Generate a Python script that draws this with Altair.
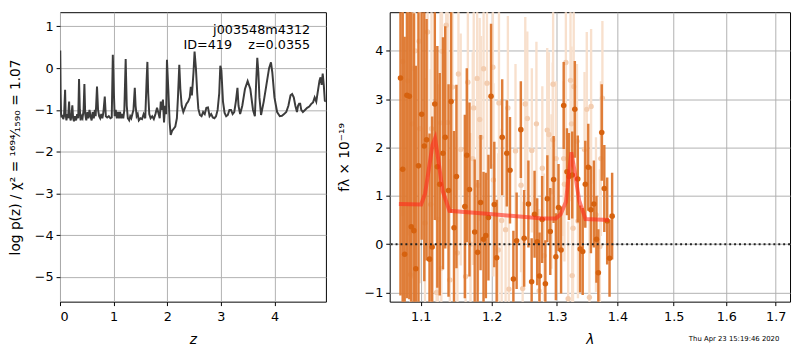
import altair as alt
import pandas as pd

# ---------------- left panel: log p(z) ----------------
pz_z = [0.000, 0.005, 0.012, 0.020, 0.030, 0.045, 0.060, 0.075, 0.095, 0.105, 0.120, 0.135, 0.150, 0.170,
        0.180, 0.200, 0.215, 0.230, 0.245, 0.260, 0.280, 0.300, 0.320, 0.340, 0.355, 0.370, 0.385, 0.400,
        0.420, 0.440, 0.455, 0.470, 0.490, 0.510, 0.530, 0.550, 0.570, 0.590, 0.610, 0.630, 0.650, 0.665,
        0.690, 0.710, 0.730, 0.750, 0.770, 0.790, 0.810, 0.835, 0.855, 0.880, 0.910, 0.940, 0.965, 0.985,
        1.005, 1.020, 1.040, 1.060, 1.080, 1.100, 1.120, 1.140, 1.160, 1.180, 1.200, 1.225, 1.245, 1.265,
        1.290, 1.310, 1.330, 1.350, 1.370, 1.395, 1.410, 1.430, 1.450, 1.470, 1.500, 1.530, 1.560, 1.590,
        1.615, 1.630, 1.645, 1.665, 1.690, 1.720, 1.750, 1.780, 1.810, 1.840, 1.860, 1.880, 1.900, 1.920,
        1.940, 1.960, 1.980, 1.995, 2.020, 2.045, 2.065, 2.090, 2.120, 2.150, 2.180, 2.200, 2.225, 2.245,
        2.270, 2.300, 2.330, 2.360, 2.390, 2.420, 2.440, 2.460, 2.490, 2.510, 2.535, 2.560, 2.580, 2.610,
        2.640, 2.670, 2.700, 2.730, 2.760, 2.790, 2.820, 2.850, 2.880, 2.910, 2.940, 2.970, 2.990, 3.010,
        3.040, 3.070, 3.100, 3.130, 3.160, 3.190, 3.220, 3.250, 3.280, 3.310, 3.330, 3.360, 3.400, 3.450,
        3.500, 3.550, 3.600, 3.635, 3.660, 3.680, 3.700, 3.720, 3.750, 3.800, 3.850, 3.900, 3.935, 3.960,
        4.000, 4.050, 4.100, 4.140, 4.180, 4.220, 4.260, 4.300, 4.330, 4.360, 4.390, 4.420, 4.440, 4.460,
        4.480, 4.500, 4.530, 4.570, 4.610, 4.650, 4.690, 4.720, 4.750, 4.780, 4.810, 4.840, 4.860, 4.880,
        4.900, 4.920, 4.940, 4.960]
pz_logp = [-1.00, 0.42, -0.60, -1.10, -1.18, -1.12, -1.22, -1.15, -0.52, -1.10, -1.25, -1.10, -1.20, -0.80,
           -1.15, -1.25, -1.10, -0.89, -1.20, -1.27, -1.15, -1.25, -1.10, -1.20, -0.26, -1.00, -1.25, -1.15,
           -1.20, -1.00, -0.38, -1.10, -1.25, -1.05, -1.20, -1.00, -1.15, -1.25, -1.05, -1.20, -1.00, -1.15,
           -0.44, -1.00, -1.15, -1.20, -1.10, -1.20, -1.05, -0.68, -1.15, -1.18, -1.15, -1.20, -1.18, 0.32,
           -0.60, -1.15, -1.00, -1.20, -1.05, -1.20, -1.05, -1.20, -1.10, -1.20, -1.00, 0.22, -0.90, -1.20,
           -1.25, -1.15, -1.20, -1.10, -1.00, -0.47, -0.90, -1.15, -1.10, -1.25, -1.20, -1.22, -1.10, -1.20,
           -0.30, 0.15, -0.60, -1.10, -1.20, -1.15, -1.22, -1.10, -0.95, -1.10, -1.20, -0.80, -1.00, -0.75,
           -1.30, -0.90, -1.10, 0.20, -0.50, -1.30, -1.60, -1.50, -1.45, -1.40, -1.20, -0.70, 0.08, -0.50,
           -0.90, -1.05, -0.95, -0.85, -0.80, -0.70, -0.45, -0.65, -0.10, 0.40, 0.00, -0.60, -0.97, -1.12,
           -1.15, -1.05, -1.10, -0.95, -0.94, -1.15, -1.10, -1.18, -1.20, -1.15, -1.00, -0.60, 0.06, -0.05,
           -0.80, -1.07, -1.15, -1.12, -1.00, -1.00, -1.10, -1.05, -0.80, -0.47, -0.90, -1.10, -0.90, -0.50,
           -0.31, -0.50, -1.00, -1.15, -0.30, 0.25, -0.10, -0.70, -1.12, -0.80, -0.40, 0.00, 0.14, -0.10,
           -0.70, -1.05, -1.15, -1.14, -1.10, -1.05, -0.90, -0.65, -0.62, -0.70, -0.90, -1.05, -0.90, -0.85,
           -0.85, -1.00, -1.05, -1.00, -0.95, -0.92, -0.85, -0.82, -0.70, -0.80, -0.55, -0.30, -0.22, -0.40,
           -0.13, -0.40, -0.78, -0.80]

# ---------------- right panel: spectrum ----------------
dark_wave = [1.0731, 1.0760, 1.0786, 1.0816, 1.0848, 1.0874, 1.0908, 1.0934, 1.0970, 1.1013, 1.1049, 1.1080,
             1.1120, 1.1156, 1.1192, 1.1227, 1.1260, 1.1305, 1.1336, 1.1382, 1.1418, 1.1459, 1.1493, 1.1612,
             1.1640, 1.1678, 1.1753, 1.1795, 1.1838, 1.1881, 1.1915, 1.1953, 1.1991, 1.2039, 1.2074, 1.2156,
             1.2225, 1.2273, 1.2324, 1.2373, 1.2437, 1.2488, 1.2553, 1.2603, 1.2648, 1.2689, 1.2725, 1.2766,
             1.2817, 1.2848, 1.2894, 1.2947, 1.2983, 1.3025, 1.3066, 1.3108, 1.3161, 1.3192, 1.3246, 1.3288,
             1.3336, 1.3375, 1.3417, 1.3460, 1.3509, 1.3553, 1.3602, 1.3645, 1.3677, 1.3734, 1.3777, 1.3826,
             1.3866, 1.3910]
dark_flux = [3.44, 1.55, -0.21, 3.08, 3.06, 0.36, 0.28, -0.51, 1.62, 2.69, 2.03, 2.16,
             -0.31, -0.06, 2.90, 1.60, 1.24, 1.88, 2.21, 1.11, 2.95, 0.34, 1.40, 0.78,
             1.84, 1.13, 0.25, -0.17, 0.86, 0.10, 0.18, 0.55, 3.06, 0.82, -0.28, 2.21,
             1.88, 1.53, -0.72, 0.07, 2.37, 0.12, 0.83, -0.78, 0.62, 0.05, -0.66, 0.51,
             -0.82, 0.94, 0.26, 1.34, -0.26, 0.76, -0.12, 2.87, 1.50, 1.40, 1.43, 2.79,
             1.35, -0.10, -0.15, 1.24, 1.59, 0.71, 0.83, 0.10, -0.59, 2.31, 1.15, 0.48,
             -0.29, 0.58]
dark_err = [4.5, 4.5, 4.5, 4.2, 4.2, 4.5, 4.5, 4.2, 4.0, 2.6, 2.8, 2.5,
            2.6, 2.7, 2.4, 2.5, 2.3, 2.4, 2.3, 2.2, 2.3, 2.0, 1.9, 1.9,
            1.8, 1.8, 1.5, 1.5, 1.4, 1.4, 1.3, 1.3, 1.5, 1.3, 1.2, 1.2,
            1.1, 1.1, 1.0, 1.0, 1.0, 1.0, 0.9, 0.9, 0.9, 0.9, 0.9, 0.9,
            0.9, 0.9, 0.9, 0.9, 0.9, 0.9, 0.9, 0.9, 0.9, 0.9, 0.9, 1.0,
            0.9, 0.9, 0.9, 0.9, 0.9, 0.9, 0.9, 0.9, 0.9, 1.0, 0.9, 0.9,
            0.8, 0.9]

light_wave = [1.0760, 1.0829, 1.0864, 1.0884, 1.0912, 1.0926, 1.0979, 1.0989, 1.1058, 1.1093, 1.1136, 1.1147,
              1.1217, 1.1237, 1.1271, 1.1282, 1.1291, 1.1350, 1.1370, 1.1400, 1.1437, 1.1507, 1.1521, 1.1553,
              1.1623, 1.1655, 1.1693, 1.1725, 1.1739, 1.1788, 1.1802, 1.1825, 1.1845, 1.1882, 1.1931, 1.2018,
              1.2026, 1.2098, 1.2108, 1.2148, 1.2207, 1.2241, 1.2256, 1.2356, 1.2440, 1.2465, 1.2505, 1.2536,
              1.2606, 1.2677, 1.2719, 1.2769, 1.2795, 1.2846, 1.2872, 1.2913, 1.2934, 1.2939, 1.2986, 1.3108,
              1.3120, 1.3143, 1.3180, 1.3218, 1.3234, 1.3245, 1.3259, 1.3270, 1.3323, 1.3339, 1.3447, 1.3484,
              1.3528, 1.3556, 1.3637, 1.3703, 1.3719, 1.3745]
light_flux = [3.78, 3.38, -0.63, 2.49, 3.64, 4.00, 4.20, 2.39, 0.44, 4.39, 0.82, 2.39,
              -1.00, 0.51, 2.51, -0.50, 3.99, 4.53, 2.52, -0.74, 3.25, -0.18, 3.52, 1.96,
              -0.67, 3.35, 0.00, 1.77, 2.82, 3.43, 1.22, 2.58, 2.21, 3.63, 3.33, 3.66,
              1.33, -0.12, 2.92, 0.49, 0.30, 2.82, -0.93, 1.93, 1.22, -0.92, 2.90, 2.60,
              1.94, 2.49, -0.97, 1.57, -0.24, 2.36, 2.27, 1.09, 2.16, 3.31, 1.77, 1.77,
              1.24, 3.76, -1.13, 3.39, 2.49, -0.65, 0.33, 3.26, 2.13, 0.48, 1.96, 2.79,
              -1.10, 2.85, 0.61, -0.05, 1.77, 3.02]
light_err = [3.2, 3.2, 3.0, 3.2, 3.0, 3.2, 3.0, 3.2, 3.0, 3.0, 2.8, 2.8,
             2.8, 2.8, 2.6, 2.6, 2.6, 2.6, 2.5, 2.5, 2.5, 2.4, 2.4, 2.4,
             2.3, 2.3, 2.3, 2.2, 2.2, 2.2, 2.2, 2.1, 2.1, 2.1, 2.0, 2.0,
             2.0, 2.0, 2.0, 1.9, 1.9, 1.9, 1.9, 1.8, 1.8, 1.8, 1.8, 1.8,
             1.7, 1.7, 1.7, 1.7, 1.7, 1.7, 1.7, 1.6, 1.6, 1.6, 1.6, 1.6,
             1.6, 1.6, 1.6, 1.6, 1.6, 1.6, 1.6, 1.6, 1.6, 1.6, 1.6, 1.6,
             1.6, 1.6, 1.6, 1.6, 1.6, 1.6]

model_wave = [1.0710, 1.1006, 1.1060, 1.1110, 1.1160, 1.1196, 1.1240, 1.1300, 1.1395, 1.1930, 1.2775,
              1.2980, 1.3060, 1.3143, 1.3200, 1.3232, 1.3280, 1.3360, 1.3463, 1.3854]
model_flux = [0.83, 0.82, 1.05, 1.55, 2.05, 2.19, 1.75, 1.10, 0.69, 0.63, 0.53,
              0.53, 0.62, 0.87, 1.55, 1.90, 1.55, 0.90, 0.52, 0.50]

title_obj = "j003548m4312"
title_id = "ID=419\u00a0\u00a0\u00a0\u00a0z=0.0355"
stamp = "Thu Apr 23 15:19:46 2020"

FONT = "DejaVu Sans"
GRID = "#b0b0b0"

# -------- left chart --------
pz = pd.DataFrame({"z": pz_z, "logp": pz_logp})
lw, lh = 271, 295

left_line = alt.Chart(pz).mark_line(color="#3c3c3c", strokeWidth=2, clip=True).encode(
    x=alt.X("z:Q", scale=alt.Scale(domain=[0, 4.96], nice=False, zero=False),
            axis=alt.Axis(values=[0, 1, 2, 3, 4], title="z", titleFontStyle="italic")),
    y=alt.Y("logp:Q", scale=alt.Scale(domain=[-5.59, 1.34], nice=False, zero=False),
            axis=alt.Axis(values=[-5, -4, -3, -2, -1, 0, 1],
                          labelExpr="replace(datum.label, '-', '\u2212')",
                          title="log p(z) / \u03c7\u00b2 = \u00b9\u2076\u2079\u2074\u2044\u2081\u2085\u2089\u2080 = 1.07",
                          titlePadding=12)),
)
t1 = alt.Chart(pd.DataFrame({"t": [title_obj]})).mark_text(
    align="right", baseline="middle", fontSize=13, font=FONT, color="black").encode(
    text="t:N", x=alt.value(255), y=alt.value(18))
t2 = alt.Chart(pd.DataFrame({"t": [title_id]})).mark_text(
    align="right", baseline="middle", fontSize=13, font=FONT, color="black").encode(
    text="t:N", x=alt.value(255), y=alt.value(33))
left = alt.layer(left_line, t1, t2).properties(width=lw, height=lh)

# -------- right chart --------
dark = pd.DataFrame({"w": dark_wave, "f": dark_flux, "e": dark_err})
dark["lo"] = dark["f"] - dark["e"]
dark["hi"] = dark["f"] + dark["e"]
light = pd.DataFrame({"w": light_wave, "f": light_flux, "e": light_err})
light["lo"] = light["f"] - light["e"]
light["hi"] = light["f"] + light["e"]
model = pd.DataFrame({"w": model_wave, "f": model_flux})

xs = alt.Scale(type="log", domain=[1.059, 1.730], nice=False, zero=False)
ys = alt.Scale(domain=[-1.19, 4.80], nice=False, zero=False)
xax = alt.Axis(values=[1.1, 1.2, 1.3, 1.4, 1.5, 1.6, 1.7], format=".1f", title="\u03bb",
               titleFontStyle="italic")
yax = alt.Axis(values=[-1, 0, 1, 2, 3, 4], labelExpr="replace(datum.label, '-', '\u2212')",
               title="f\u03bb \u00d7 10\u207b\u00b9\u2079", titlePadding=13)

lb = alt.Chart(light).mark_rule(color="#f8e0cd", strokeWidth=2.4, clip=True).encode(
    x=alt.X("w:Q", scale=xs, axis=xax), y=alt.Y("lo:Q", scale=ys, axis=yax), y2="hi:Q")
lp = alt.Chart(light).mark_circle(color="#f3cdb0", size=30, opacity=1, clip=True).encode(
    x=alt.X("w:Q", scale=xs), y=alt.Y("f:Q", scale=ys))
db = alt.Chart(dark).mark_rule(color="#dd762d", strokeWidth=2.5, opacity=0.95, clip=True).encode(
    x=alt.X("w:Q", scale=xs), y=alt.Y("lo:Q", scale=ys), y2="hi:Q")
dp = alt.Chart(dark).mark_circle(color="#d6620f", size=32, opacity=1, clip=True).encode(
    x=alt.X("w:Q", scale=xs), y=alt.Y("f:Q", scale=ys))
ml = alt.Chart(model).mark_line(color="#ff2a1a", strokeWidth=4, opacity=0.6, clip=True).encode(
    x=alt.X("w:Q", scale=xs), y=alt.Y("f:Q", scale=ys))
zl = alt.Chart(pd.DataFrame({"v": [0]})).mark_rule(color="#222222", strokeWidth=2,
                                                     strokeDash=[2, 3]).encode(y=alt.Y("v:Q", scale=ys))
st = alt.Chart(pd.DataFrame({"t": [stamp]})).mark_text(fontSize=7, font=FONT, align="center",
                                                      baseline="middle", color="black").encode(
    text="t:N", x=alt.value(351), y=alt.value(333))

right = alt.layer(lb, lp, db, dp, ml, zl, st).properties(width=408, height=lh)

chart = alt.hconcat(left, right, spacing=10).properties(padding=0).configure(font=FONT).configure_view(
    stroke="black", strokeWidth=1).configure_axis(
    grid=True, gridColor=GRID, gridWidth=1, domain=False, tickColor="black", tickSize=4,
    labelFontSize=13, labelColor="black", titleFontSize=14, titleColor="black",
    titleFontWeight="normal", labelFont=FONT, titleFont=FONT, labelPadding=3, titlePadding=4
).configure_axisX(labelPadding=5, titlePadding=10)

chart.save("out.html", embed_options={"renderer": "svg", "actions": False})
